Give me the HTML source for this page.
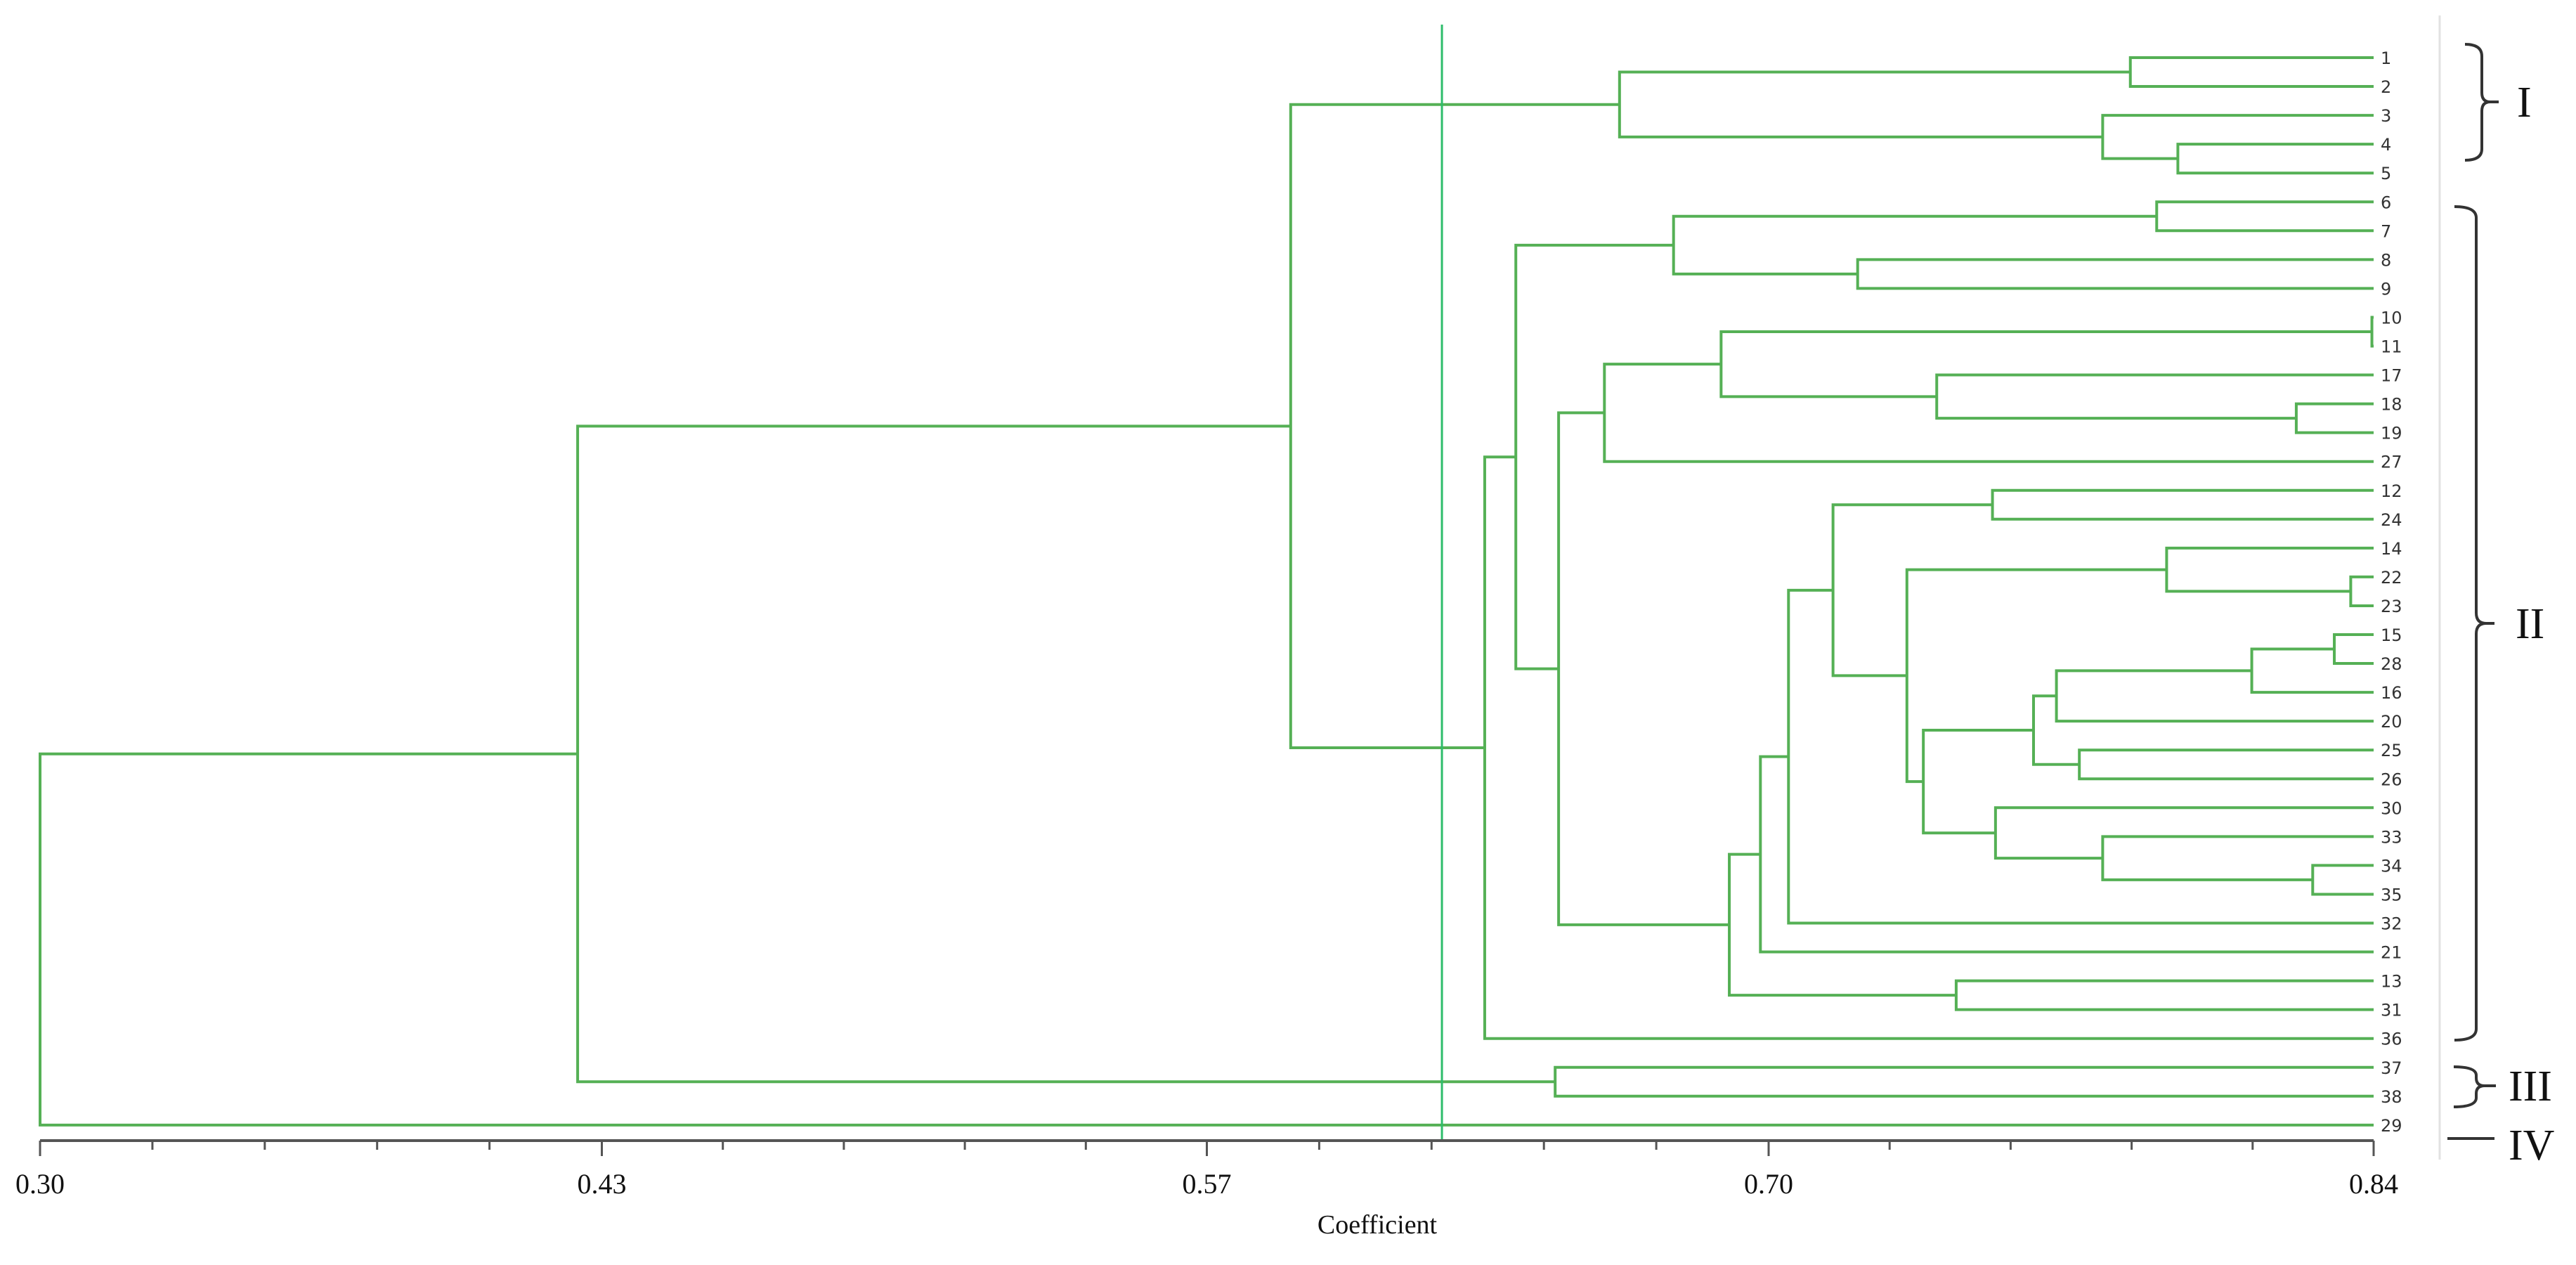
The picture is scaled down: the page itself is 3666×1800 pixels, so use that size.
<!DOCTYPE html>
<html><head><meta charset="utf-8"><style>
html,body{margin:0;padding:0;background:#fff;}
svg{display:block;}
</style></head><body>
<svg id="chart" width="3666" height="1800" viewBox="0 0 3666 1800" xmlns="http://www.w3.org/2000/svg">
<g id="tree"></g>
<g id="axis"></g>
<g id="labels"></g>
<line x1="3472" y1="22" x2="3472" y2="1650" stroke="#e2e2e2" stroke-width="3"/>
<g fill="none" stroke="#333" stroke-width="4">
<path d="M3508,63 Q3532,63 3532,80 L3532,132 Q3532,145 3544,145 L3556,145 M3544,145 Q3532,145 3532,158 L3532,212 Q3532,228 3508,228"/>
<path d="M3493,294 Q3524,294 3524,310 L3524,872 Q3524,887 3538,887 L3550,887 M3538,887 Q3524,887 3524,902 L3524,1464 Q3524,1480 3493,1480"/>
<path d="M3492,1518 Q3524,1518 3524,1530 L3524,1534 Q3524,1545 3536,1545 L3552,1545 M3536,1545 Q3524,1545 3524,1556 L3524,1562 Q3524,1575 3492,1575"/>
<line x1="3483" y1="1620" x2="3550" y2="1620"/>
</g>
<g font-family="Liberation Serif, serif" font-size="62" fill="#111">
<text x="3582" y="166">I</text>
<text x="3580" y="908">II</text>
<text x="3570" y="1566">III</text>
<text x="3570" y="1650">IV</text>
</g>
<text x="1960" y="1755" text-anchor="middle" font-family="Liberation Serif, serif" font-size="38" fill="#111">Coefficient</text>
</svg>
<script>
// Data
const leafOrder = [1,2,3,4,5,6,7,8,9,10,11,17,18,19,27,12,24,14,22,23,15,28,16,20,25,26,30,33,34,35,32,21,13,31,36,37,38,29];
// merges: children are "L<leaf>" or "N<index>", heights are similarity coefficients
const mergeLeft   = ["L1","L4","L3","N0","L6","L8","N4","L10","L18","L17","N7","N10","L12","L22","L14","L15","N15","N16","L25","N17","L34","L33","L30","N19","N14","N12","N25","N26","L13","N27","N11","N6","N31","N3","L37","N33","N35"];
const mergeRight  = ["L2","L5","N1","N2","L7","L9","N5","L11","L19","N8","N9","L27","L24","L23","N13","L28","L16","L20","L26","N18","L35","N20","N21","N22","N23","N24","L32","L21","L31","N28","N29","N30","L36","N32","L38","N34","L29"];
const mergeHeight = [0.7837,0.7947,0.7773,0.6655,0.7898,0.7206,0.6780,0.8396,0.8221,0.7389,0.6890,0.6620,0.7518,0.8347,0.7921,0.8309,0.8118,0.7666,0.7719,0.7613,0.8259,0.7773,0.7525,0.7358,0.7320,0.7149,0.7046,0.6981,0.7434,0.6909,0.6514,0.6415,0.6343,0.5894,0.6506,0.4244,0.30];
const axisTicks = [0.30,0.43,0.57,0.70,0.84];
const tickLabels = ["0.30","0.43","0.57","0.70","0.84"];
const cutValue = 0.6244;

const NS = "http://www.w3.org/2000/svg";
const X0 = 57, X1 = 3378, VMIN = 0.30, VMAX = 0.84;
function xScale(v){ return X0 + (v - VMIN) / (VMAX - VMIN) * (X1 - X0); }
const ROW0 = 82, ROWH = 41.05;
function yScale(i){ return ROW0 + i * ROWH; }
const AXIS_Y = 1623;
const GREEN = "#55b055";

const leafY = {};
leafOrder.forEach((l, i) => { leafY[l] = yScale(i); });
const nodeY = [], nodeX = [];
function pos(ref){
  if (ref[0] === "L") return {x: xScale(VMAX), y: leafY[+ref.slice(1)]};
  const k = +ref.slice(1); return {x: nodeX[k], y: nodeY[k]};
}
const tree = document.getElementById("tree");
function mk(tag, attrs){ const e = document.createElementNS(NS, tag); for (const k in attrs) e.setAttribute(k, attrs[k]); return e; }

for (let k = 0; k < mergeHeight.length; k++) {
  const a = pos(mergeLeft[k]), b = pos(mergeRight[k]);
  const x = xScale(mergeHeight[k]);
  nodeX[k] = x; nodeY[k] = (a.y + b.y) / 2;
  const p = mk("path", {d: `M${a.x},${a.y} L${x},${a.y} L${x},${b.y} L${b.x},${b.y}`, fill: "none", stroke: GREEN, "stroke-width": 4});
  
  
  tree.appendChild(p);
}
// cut line
const cut = mk("line", {x1: xScale(cutValue), y1: 35, x2: xScale(cutValue), y2: AXIS_Y, stroke: "#2ebd6b", "stroke-width": 3});


tree.appendChild(cut);

// leaf labels
const labels = document.getElementById("labels");
leafOrder.forEach((l, i) => {
  const t = mk("text", {x: X1 + 10, y: yScale(i) + 9, "font-family": "DejaVu Sans, sans-serif", "font-size": 24, fill: "#333"});
  t.textContent = String(l);
  
  
  labels.appendChild(t);
});

// axis
const axis = document.getElementById("axis");
const al = mk("line", {x1: X0, y1: AXIS_Y, x2: X1, y2: AXIS_Y, stroke: "#555", "stroke-width": 4});


axis.appendChild(al);
for (let i = 0; i < axisTicks.length; i++) {
  const x = xScale(axisTicks[i]);
  const tk = mk("line", {x1: x, y1: AXIS_Y, x2: x, y2: AXIS_Y + 22, stroke: "#555", "stroke-width": 3});
  
  
  axis.appendChild(tk);
  const tl = mk("text", {x: x, y: AXIS_Y + 75, "text-anchor": "middle", "font-family": "Liberation Serif, serif", "font-size": 40, fill: "#111"});
  tl.textContent = tickLabels[i];
  
  
  axis.appendChild(tl);
  if (i < axisTicks.length - 1) {
    for (let m = 1; m < 5; m++) {
      const v = axisTicks[i] + (axisTicks[i+1] - axisTicks[i]) * m / 5;
      const mx = xScale(v);
      const mt = mk("line", {x1: mx, y1: AXIS_Y, x2: mx, y2: AXIS_Y + 13, stroke: "#555", "stroke-width": 3});
      
      
      axis.appendChild(mt);
    }
  }
}
</script>
</body></html>
